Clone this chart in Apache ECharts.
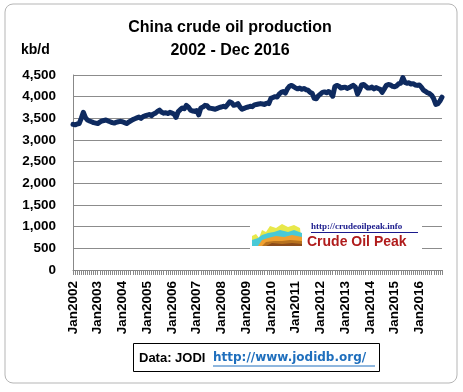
<!DOCTYPE html>
<html>
<head>
<meta charset="utf-8">
<script src="https://cdn.jsdelivr.net/npm/echarts@6/dist/echarts.min.js"></script>
<style>html,body{margin:0;padding:0;background:#fff}#c{width:463px;height:392px}</style>
</head>
<body>
<div id="c"></div>
<script>
var titleLines = ['China crude oil production', '2002 - Dec 2016'];
var yUnit = 'kb/d';
var years = [2002,2003,2004,2005,2006,2007,2008,2009,2010,2011,2012,2013,2014,2015,2016];
var monthNames = ['Jan','Feb','Mar','Apr','May','Jun','Jul','Aug','Sep','Oct','Nov','Dec'];
var yTicks = [0,500,1000,1500,2000,2500,3000,3500,4000,4500];

var v2002 = [3360,3350,3370,3380,3500,3640,3520,3460,3440,3420,3400,3390];
var v2003 = [3380,3410,3440,3450,3460,3440,3420,3400,3390,3410,3420,3430];
var v2004 = [3420,3400,3380,3410,3440,3470,3490,3510,3530,3500,3540,3560];
var v2005 = [3570,3590,3560,3600,3620,3660,3690,3640,3620,3630,3610,3640];
var v2006 = [3620,3600,3520,3650,3700,3740,3720,3800,3760,3690,3670,3660];
var v2007 = [3680,3580,3740,3760,3800,3790,3740,3730,3720,3710,3730,3750];
var v2008 = [3760,3780,3760,3820,3880,3860,3800,3810,3840,3760,3710,3730];
var v2009 = [3750,3760,3780,3770,3810,3820,3830,3840,3830,3820,3850,3840];
var v2010 = [3960,3980,4000,3990,4060,4100,4120,4080,4180,4240,4260,4230];
var v2011 = [4200,4180,4200,4170,4190,4160,4150,4100,4080,3960,3950,4020];
var v2012 = [4060,4100,4110,4090,4120,4080,4010,4230,4260,4240,4200,4210];
var v2013 = [4220,4190,4210,4240,4260,4220,4060,4150,4270,4280,4240,4200];
var v2014 = [4200,4220,4180,4210,4190,4170,4100,4180,4260,4280,4270,4240];
var v2015 = [4230,4250,4300,4310,4440,4330,4310,4320,4290,4300,4270,4260];
var v2016 = [4270,4220,4150,4120,4090,4070,4030,3950,3820,3840,3900,3990];

var yearly = [v2002,v2003,v2004,v2005,v2006,v2007,v2008,v2009,v2010,v2011,v2012,v2013,v2014,v2015,v2016];
var categories = [];
var values = [];
years.forEach(function(y, i){
  monthNames.forEach(function(m, j){
    categories.push(m + y);
    values.push(yearly[i][j]);
  });
});

var chart = echarts.init(document.getElementById('c'), null, {renderer:'canvas'});
var F = 'Liberation Sans, Arial, sans-serif';
chart.setOption({
  animation: false,
  backgroundColor: '#fff',
  grid: {left: 73, right: 21, top: 75, bottom: 122, containLabel: false},
  xAxis: {
    type: 'category',
    data: categories,
    boundaryGap: false,
    axisLine: {lineStyle: {color: '#888', width: 1}},
    axisTick: {show: true, interval: 0, length: 5, lineStyle: {color: '#888'}},
    axisLabel: {
      interval: 11, rotate: 90, margin: 11,
      fontFamily: F, fontWeight: 'bold', fontSize: 13.5, color: '#000'
    },
    splitLine: {show: false}
  },
  yAxis: {
    type: 'value',
    min: yTicks[0], max: yTicks[yTicks.length-1], interval: 500,
    axisLine: {show: true, lineStyle: {color: '#888', width: 1}},
    axisTick: {show: false},
    axisLabel: {
      margin: 17, fontFamily: F, fontWeight: 'bold', fontSize: 13.5, color: '#000',
      formatter: function(v){ return v.toLocaleString('en-US'); }
    },
    splitLine: {lineStyle: {color: '#8c8c8c', width: 1}}
  },
  series: [{
    type: 'line',
    data: values,
    showSymbol: false,
    symbol: 'none',
    lineStyle: {color: '#0e2a5f', width: 5, join: 'round', cap: 'round'},
    z: 3
  }],
  graphic: [
    {type: 'rect', shape: {x: 5, y: 4, width: 452, height: 379, r: 8}, style: {fill: 'none', stroke: '#b5b5b5', lineWidth: 1}, z: 0, silent: true},
    {type: 'text', x: 230, y: 28, style: {text: titleLines[0], font: 'bold 16px ' + F, fill: '#000', align: 'center', verticalAlign: 'middle'}},
    {type: 'text', x: 230, y: 51, style: {text: titleLines[1], font: 'bold 16px ' + F, fill: '#000', align: 'center', verticalAlign: 'middle'}},
    {type: 'text', x: 21, y: 50, style: {text: yUnit, font: 'bold 14px ' + F, fill: '#000', align: 'left', verticalAlign: 'middle'}},
    {type: 'rect', shape: {x: 250, y: 219, width: 172, height: 32}, style: {fill: '#fff'}, z: 10},
    {type: 'group', z: 11, children: [
      {type: 'polygon', shape: {points: [[252,246],[252,236],[256,234],[259,238],[262,230],[266,232],[270,226],[276,228],[282,224],[288,227],[294,225],[300,228],[302,246]]}, style: {fill: '#e8e84a'}, z: 11},
      {type: 'polygon', shape: {points: [[252,246],[252,240],[258,238],[262,235],[268,233],[274,232],[280,230],[288,232],[294,230],[302,233],[302,246]]}, style: {fill: '#49c9d6'}, z: 12},
      {type: 'polygon', shape: {points: [[258,246],[262,240],[268,238],[276,236],[284,237],[292,235],[302,237],[302,246]]}, style: {fill: '#f0a030'}, z: 13},
      {type: 'polygon', shape: {points: [[262,246],[266,242],[274,241],[282,241],[290,240],[302,241],[302,246]]}, style: {fill: '#b8721e'}, z: 14},
      {type: 'polygon', shape: {points: [[266,246],[272,243],[282,244],[292,243],[302,244],[302,246]]}, style: {fill: '#8a4a1a'}, z: 15}
    ]},
    {type: 'text', x: 311, y: 227, z: 12, style: {text: 'http://crudeoilpeak.info', font: 'bold 9px Liberation Serif, serif', fill: '#1a1a8c', align: 'left', verticalAlign: 'middle'}},
    {type: 'line', z: 12, shape: {x1: 311, y1: 232.5, x2: 418, y2: 232.5}, style: {stroke: '#1a1a8c', lineWidth: 1}},
    {type: 'text', x: 307, y: 242, z: 12, style: {text: 'Crude Oil Peak', font: 'bold 14px ' + F, fill: '#b01c1c', align: 'left', verticalAlign: 'middle'}},
    {type: 'rect', shape: {x: 133.5, y: 343.5, width: 246, height: 28}, style: {fill: '#fff', stroke: '#000', lineWidth: 1}, z: 10},
    {type: 'text', x: 139, y: 358, z: 11, style: {text: 'Data: JODI', font: 'bold 13px ' + F, fill: '#000', align: 'left', verticalAlign: 'middle'}},
    {type: 'text', x: 213, y: 358, z: 11, style: {text: 'http://www.jodidb.org/', font: 'bold 12px DejaVu Sans, sans-serif', fill: '#1f6fbd', align: 'left', verticalAlign: 'middle'}},
    {type: 'line', z: 11, shape: {x1: 213, y1: 366, x2: 375, y2: 366}, style: {stroke: '#1f6fbd', lineWidth: 1}}
  ]
});
</script>
</body>
</html>
